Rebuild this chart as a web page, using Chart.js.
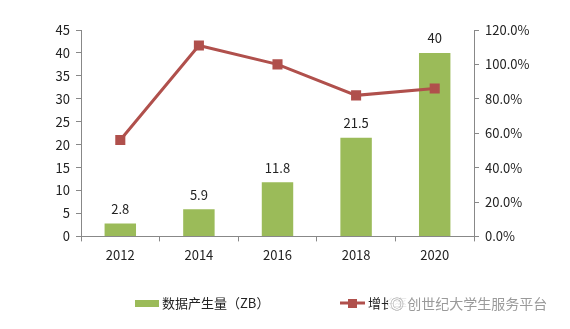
<!DOCTYPE html>
<html lang="zh">
<head>
    <meta charset="utf-8">
    <title>数据产生量</title>
    <script src="https://cdn.jsdelivr.net/npm/chart.js"></script>
    <style>
        body {
            margin: 0;
            background: #ffffff;
        }

        .wrap {
            position: relative;
            width: 570px;
            height: 329px;
        }

        .watermark {
            position: absolute;
            left: 388px;
            top: 293px;
            font-family: 'Noto Sans CJK SC', sans-serif;
            font-size: 14px;
            line-height: 20px;
            color: #9a9a9a;
            background: rgba(255, 255, 255, 0.9);
            padding: 0 2px;
        }
    </style>
</head>
<body>
<div class="wrap">
    <canvas id="dataChart" width="570" height="329"></canvas>
    <div class="watermark">◎ 创世纪大学生服务平台</div>
</div>

<script>
    // 数据
    const years = ['2012', '2014', '2016', '2018', '2020'];
    const volume = [2.8, 5.9, 11.8, 21.5, 40];
    const growth = [56, 111, 100, 82, 86];

    const font = "'Noto Sans CJK SC', 'Noto Sans', sans-serif";
    Chart.defaults.font.family = font;
    Chart.defaults.font.size = 13;
    Chart.defaults.color = '#222';

    const green = '#9BBB59';
    const red = '#B0504C';

    // 柱子上方的数值
    const barLabels = {
        id: 'barLabels',
        afterDatasetsDraw(chart) {
            const ctx = chart.ctx;
            const meta = chart.getDatasetMeta(1);
            ctx.save();
            ctx.font = '13px ' + font;
            ctx.fillStyle = '#222';
            ctx.textAlign = 'center';
            ctx.textBaseline = 'bottom';
            meta.data.forEach((bar, i) => {
                ctx.fillText(String(volume[i]), bar.x, bar.y - 8);
            });
            ctx.restore();
        }
    };

    // 底部图例
    const bottomLegend = {
        id: 'bottomLegend',
        afterDraw(chart) {
            const ctx = chart.ctx;
            const y = 303;
            ctx.save();
            ctx.font = '13px ' + font;
            ctx.fillStyle = '#222';
            ctx.textBaseline = 'middle';
            ctx.textAlign = 'left';

            ctx.fillStyle = green;
            ctx.fillRect(135, y - 3, 24, 7);
            ctx.fillStyle = '#222';
            ctx.fillText('数据产生量（ZB）', 162, y);

            ctx.strokeStyle = red;
            ctx.lineWidth = 3;
            ctx.beginPath();
            ctx.moveTo(340, y);
            ctx.lineTo(365, y);
            ctx.stroke();
            ctx.fillStyle = red;
            ctx.fillRect(348, y - 4, 9, 9);
            ctx.fillStyle = '#222';
            ctx.fillText('增长率', 368, y);
            ctx.restore();
        }
    };

    new Chart(document.getElementById('dataChart'), {
        data: {
            labels: years,
            datasets: [
                {
                    type: 'line',
                    label: '增长率',
                    data: growth,
                    yAxisID: 'y1',
                    borderColor: red,
                    backgroundColor: red,
                    borderWidth: 3,
                    pointStyle: 'rect',
                    pointRadius: 5,
                    pointHoverRadius: 5,
                    tension: 0,
                    order: 0
                },
                {
                    type: 'bar',
                    label: '数据产生量（ZB）',
                    data: volume,
                    yAxisID: 'y',
                    backgroundColor: green,
                    barPercentage: 0.4,
                    categoryPercentage: 1,
                    order: 1
                }
            ]
        },
        options: {
            responsive: false,
            animation: false,
            layout: {
                padding: { top: 30, bottom: 60 }
            },
            plugins: {
                tooltip: { enabled: false },
                legend: { display: false }
            },
            scales: {
                x: {
                    offset: true,
                    grid: { offset: true, drawOnChartArea: false, tickLength: 5, color: '#888' },
                    border: { color: '#888' },
                    ticks: { padding: 6 }
                },
                y: {
                    position: 'left',
                    min: 0,
                    max: 45,
                    ticks: { stepSize: 5, padding: 6 },
                    grid: { drawOnChartArea: false, tickLength: 5, color: '#888' },
                    border: { color: '#888' },
                    afterFit(scale) { scale.width = 81; }
                },
                y1: {
                    position: 'right',
                    min: 0,
                    max: 120,
                    ticks: {
                        stepSize: 20,
                        padding: 6,
                        callback: v => v.toFixed(1) + '%'
                    },
                    grid: { drawOnChartArea: false, tickLength: 5, color: '#888' },
                    border: { color: '#888' },
                    afterFit(scale) { scale.width = 96; }
                }
            }
        },
        plugins: [barLabels, bottomLegend]
    });
</script>
</body>
</html>
